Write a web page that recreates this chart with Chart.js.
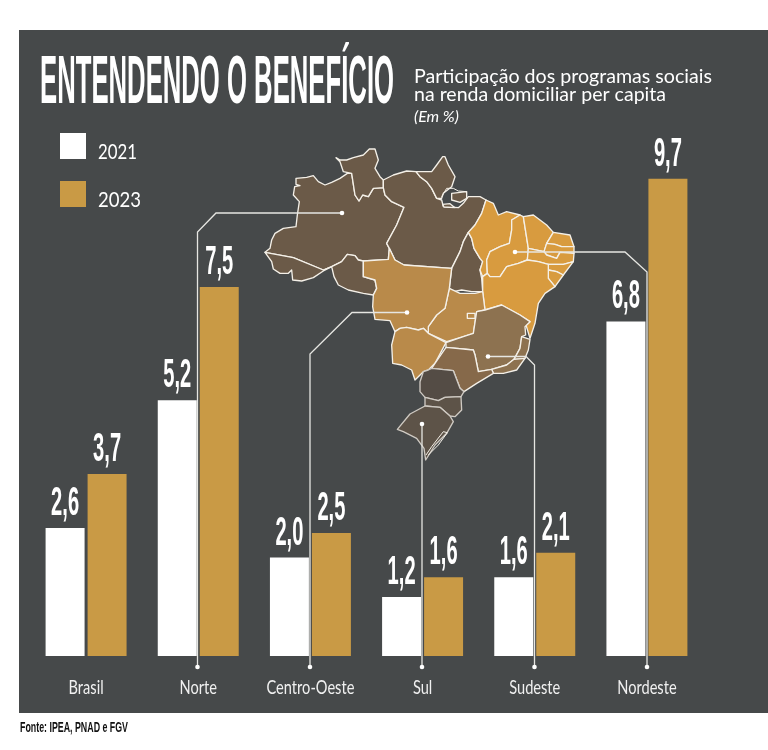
<!DOCTYPE html>
<html lang="pt-BR"><head><meta charset="utf-8"><title>Entendendo o benefício</title>
<style>html,body{margin:0;padding:0;background:#fff}canvas{display:block}</style>
<script src="https://cdn.jsdelivr.net/npm/chart.js@4"></script></head>
<body><canvas id="c" width="768" height="750"></canvas>
<script>
const categories = ['Brasil','Norte','Centro-Oeste','Sul','Sudeste','Nordeste'];
const values2021 = [2.6,5.2,2.0,1.2,1.6,6.8];
const values2023 = [3.7,7.5,2.5,1.6,2.1,9.7];
const seriesNames = ['2021','2023'];
const titleText = 'ENTENDENDO O BENEFÍCIO';
const subtitleLines = ['Participação dos programas sociais','na renda domiciliar per capita'];
const unitText = '(Em %)';
const sourceText = 'Fonte: IPEA, PNAD e FGV';

const PANEL='#46494a', WHITE='#ffffff', GOLD='#c99a45';
const NARROW='"Liberation Sans",sans-serif';

// decorative map of Brazil: traced outlines, grouped by three local frames
const off=(s,dx,dy)=>s.trim().split(/\s+/).map(p=>{const[a,b]=p.split(',').map(Number);return[a+dx,b+dy];});
const A=s=>off(s,30,15), B=s=>off(s,450,15), C=s=>off(s,330,450);
const NO='#6b5a48', NE='#d89b3f', CO='#b98a4a', SE='#8d7250', SP='#86694a', PR='#544c45', SU='#5d5348';
const mapStates=[
[NO,A('15,322 30,310 35,285 45,265 70,250 108,245 112,210 118,170 100,150 104,125 120,122 108,118 108,100 140,97 160,92 175,110 195,120 215,112 240,100 262,85 275,85 285,150 297,168 308,150 325,155 340,130 370,128 375,150 395,170 432,187 410,240 380,295 388,310 385,343 310,348 295,345 285,332 262,328 245,350 215,365 190,375 100,338')],
[NO,A('228,38 240,45 260,45 280,38 310,30 328,12 345,12 355,45 345,70 360,95 370,105 370,128 340,130 325,155 308,150 297,168 285,150 275,85 250,80 240,50')],
[NO,A('15,322 100,338 190,375 215,365 190,378 160,398 125,408 98,405 95,375 85,385 60,385 40,372 35,350')],
[NO,A('215,365 245,350 262,328 285,332 295,345 310,348 310,395 345,405 350,430 340,450 310,445 265,435 235,420 222,395')],
[NO,[...A('370,105 400,90 440,78'),...B('48,80 60,95 80,110 95,130 110,160 125,165 130,185 175,188 190,175 205,155 240,155 258,165 245,205 225,240 205,262 190,290 180,320 155,370'),...A('432,360 405,345 388,310 380,295 410,240 432,187 395,170 375,150 370,128')]],
[NO,B('48,80 95,80 110,60 128,35 135,35 145,60 165,95 155,125 130,145 125,160 110,160 95,130 80,110 60,95')],
[NO,B('155,145 200,140 200,160 180,172 155,165')],
[NO,B('128,178 150,176 165,188 132,186')],
[NO,B('205,262 215,280 222,310 240,340 248,350 240,375 245,400 248,440 215,440 185,435 160,440 148,430 152,395 155,370 180,320 190,290')],
[NE,B('258,165 280,175 295,210 320,200 360,210 335,225 335,255 328,295 300,305 270,320 260,345 262,385 248,395 240,375 248,350 240,340 222,310 215,280 205,262 225,240 245,205')],
[NE,B('360,210 370,215 385,310 382,345 355,355 320,365 300,395 270,395 262,385 260,345 270,320 300,305 328,295 335,255 335,225')],
[NE,B('370,215 400,210 440,240 460,262 440,295 432,320 385,310')],
[NE,B('460,262 510,270 522,305 485,305 465,298 440,295')],
[NE,B('432,320 440,295 465,298 485,305 522,305 522,325 480,322 470,340 440,330')],
[NE,B('385,310 432,320 440,330 470,340 480,322 522,325 520,350 490,358 445,358 415,350 382,345')],
[NE,B('445,358 490,358 520,350 490,390 470,380 445,375')],
[NE,B('445,375 470,380 490,390 465,425 445,400')],
[NE,[...B('382,345 415,350 445,358 445,400 465,425'),...C('555,10 535,40 525,100 510,145 498,105 510,95 480,75 425,45 375,60 368,5'),...B('248,395 262,385 270,395 300,395 320,365 355,355')]],
[CO,C('268,-5 300,10 345,10 368,5 375,60 350,65 340,130 310,140 260,155 205,130 205,110 230,75 255,55')],
[CO,C('322,70 345,70 345,85 322,85')],
[CO,[...A('310,348 385,343 388,310 405,345 432,360'),...B('155,370 152,395 148,430'),...C('255,55 230,75 205,110 205,130 190,115 175,120 140,112 120,115 105,125 90,92 45,88 38,50 40,15'),...A('350,430 345,405 310,395')]],
[CO,C('105,125 120,115 140,112 175,120 190,115 205,130 258,158 225,220 205,240 190,245 165,270 155,240 125,225 98,220 95,165')],
[SE,C('258,158 310,140 340,130 350,65 375,60 425,45 480,75 510,95 495,110 497,135 485,140 480,175 462,208 440,225 395,238 355,245 345,195 340,180 258,172')],
[SE,C('485,140 510,148 505,180 495,205 462,208 480,175')],
[SE,C('462,208 495,205 470,240 430,250 400,250 395,238 440,225')],
[SP,C('258,172 340,180 345,195 355,245 395,238 400,250 350,280 312,305 300,295 280,242 215,235 225,220')],
[PR,C('205,240 215,235 280,242 300,295 312,305 303,320 255,322 235,332 195,322 180,305 180,275 190,245')],
[SU,C('195,322 235,332 255,322 303,320 305,360 285,380 270,378 240,352 195,348')],
[SU,C('112,418 150,372 195,348 240,352 270,378 280,395 260,430 225,465 197,510 192,475 170,445 130,425')]
];
const mapDetails=[
 B('125,155 140,130 160,130 175,138 200,140'),
 C('198,495 215,470 250,425 262,428 235,465 205,495')
];
// leader lines from the map to each region's category
const leaders=[
[[342,213],[216,213],[197.5,232],[197.5,667]],
[[407,312.5],[352,312.5],[310,354],[310,667]],
[[422,424],[422,667]],
[[488,356.5],[526,356.5],[534.5,365],[534.5,667]],
[[515,252],[625,252],[647,272],[647,667]]
];
function poly(ctx,a,close){ctx.beginPath();a.forEach((p,i)=>i?ctx.lineTo(p[0],p[1]):ctx.moveTo(p[0],p[1]));if(close)ctx.closePath();}

const decor={
 id:'decor',
 beforeDraw(ch){
  const c=ch.ctx;c.save();
  c.fillStyle='#fff';c.fillRect(0,0,768,750);
  c.fillStyle=PANEL;c.fillRect(19,30,749,683);
  // map
  c.save();c.translate(250,140);c.scale(1/3,1/3);c.lineJoin='round';
  mapStates.forEach(([col,a])=>{poly(c,a,true);c.fillStyle=col;c.fill();c.strokeStyle=col===PR||col===SU?'#cfcac3':'#f4f0e8';c.lineWidth=4;c.stroke();});
  c.strokeStyle='#f4f0e8';c.lineWidth=3;mapDetails.forEach(a=>{poly(c,a,false);c.stroke();});
  c.restore();
  // heading
  c.fillStyle='#fff';c.textBaseline='alphabetic';c.textAlign='left';
  c.font='bold 69px '+NARROW;c.fillText(titleText,40,103,354);
  c.font='19.7px Lato';
  c.fillText(subtitleLines[0],414,83,298);c.fillText(subtitleLines[1],414,101,252);
  c.font='italic 16px Lato';c.fillText(unitText,414,122,46);
  // legend
  const ds=ch.data.datasets;
  [[133,ds[0]],[181,ds[1]]].forEach(([y,d])=>{
    c.fillStyle=d.backgroundColor;c.fillRect(60,y,26,26);
    c.fillStyle='#fff';c.font='21px Lato';c.fillText(d.label,98,y+26,d.label==='2023'?43:39);
  });
  // source
  c.fillStyle='#111';c.font='bold 15px '+NARROW;c.fillText(sourceText,20,731.5,108);
  c.restore();
 },
 afterDatasetsDraw(ch){
  const c=ch.ctx;c.save();
  // leaders
  c.strokeStyle='#e6e6e2';c.lineWidth=1.3;c.fillStyle='#fff';
  leaders.forEach(a=>{poly(c,a,false);c.stroke();
    [a[0],a[a.length-1]].forEach(p=>{c.beginPath();c.arc(p[0],p[1],2.3,0,7);c.fill();});});
  // value labels
  c.fillStyle='#fff';c.textAlign='center';c.font='bold 41px '+NARROW;
  ch.data.datasets.forEach((d,i)=>ch.getDatasetMeta(i).data.forEach((b,j)=>{
    c.fillText(d.data[j].toFixed(1).replace('.',','),b.x,b.y-13,28);
  }));
  // category labels, condensed to the width of the original type
  const sx=ch.scales.x;c.fillStyle='#f0f0f0';c.font='20px Lato';
  sx.ticks.forEach((t,i)=>{
    const s=sx.getLabelForValue(t.value);
    c.fillText(s,sx.getPixelForTick(i),694,c.measureText(s).width*0.73);
  });
  c.restore();
 }
};

new Chart(document.getElementById('c'),{
 type:'bar',
 data:{labels:categories,datasets:[
  {label:seriesNames[0],data:values2021,backgroundColor:WHITE,borderWidth:0,categoryPercentage:.7487,barPercentage:.9286},
  {label:seriesNames[1],data:values2023,backgroundColor:GOLD,borderWidth:0,categoryPercentage:.7487,barPercentage:.9286}
 ]},
 options:{
  responsive:false,animation:false,
  layout:{padding:{left:30,right:65,top:65.6,bottom:0}},
  plugins:{legend:{display:false},title:{display:false},tooltip:{enabled:false}},
  scales:{
   x:{grid:{display:false},border:{display:false},
      ticks:{display:false,autoSkip:false,maxRotation:0},
      afterFit(s){s.height=94;}},
   y:{display:false,min:0,max:12}
  }
 },
 plugins:[decor]
});
</script></body></html>
